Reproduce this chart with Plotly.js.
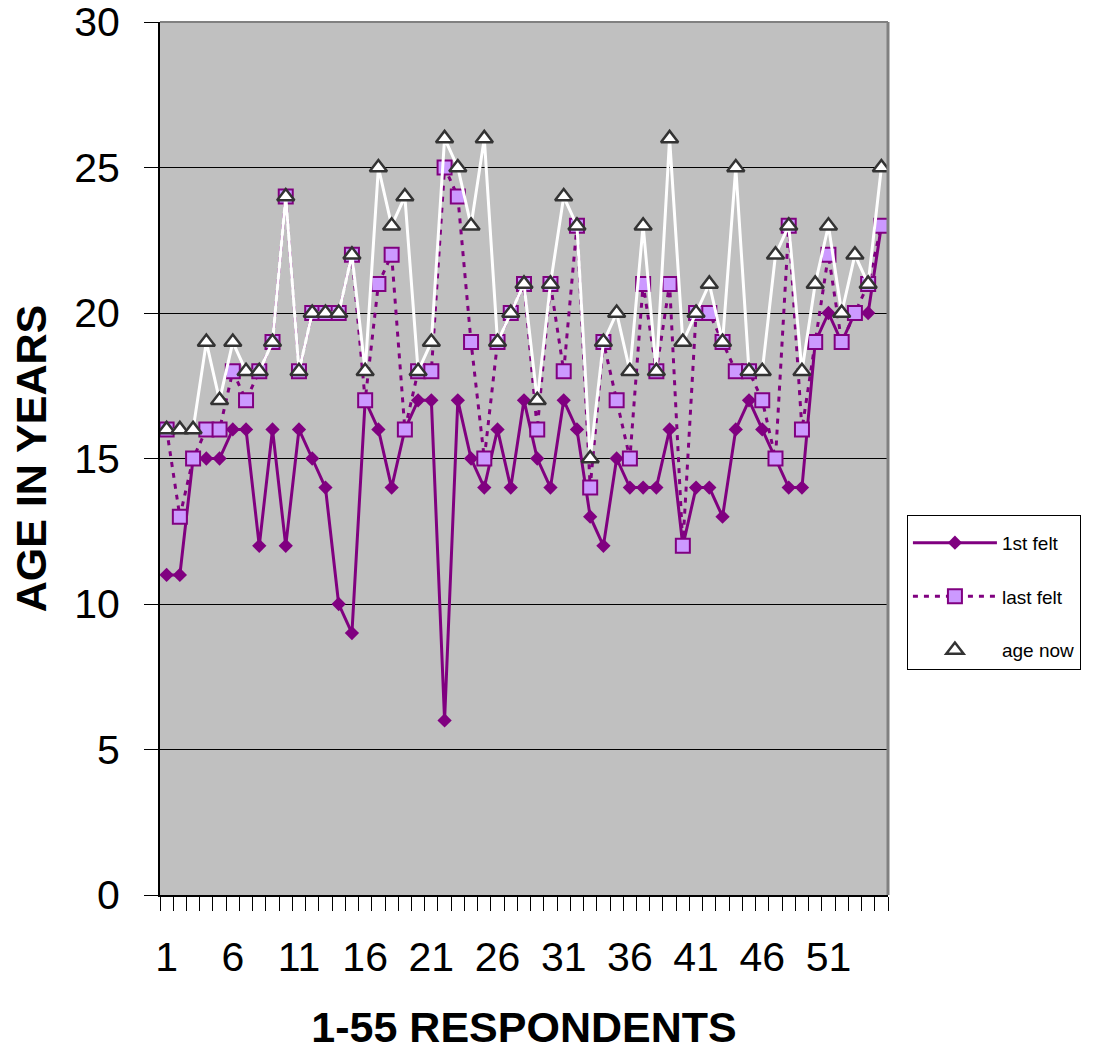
<!DOCTYPE html>
<html>
<head>
<meta charset="utf-8">
<script src="https://cdn.plot.ly/plotly-3.0.1.min.js"></script>
<style>html,body{margin:0;padding:0;background:#fff;}#chart{width:1095px;height:1057px;}</style>
</head>
<body>
<div id="chart"></div>
<script>
var respondents = [];
for (var i = 1; i <= 55; i++) respondents.push(i);

var firstFelt = [11,11,15,15,15,16,16,12,16,12,16,15,14,10,9,17,16,14,16,17,
                 17,6,17,15,14,16,14,17,15,14,17,16,13,12,15,14,14,14,16,12,
                 14,14,13,16,17,16,15,14,14,19,20,19,20,20,23];
var lastFelt  = [16,13,15,16,16,18,17,18,19,24,18,20,20,20,22,17,21,22,16,18,
                 18,25,24,19,15,19,20,21,16,21,18,23,14,19,17,15,21,18,21,12,
                 20,20,19,18,18,17,15,23,16,19,22,19,20,21,23];
var ageNow    = [16,16,16,19,17,19,18,18,19,24,18,20,20,20,22,18,25,23,24,18,
                 19,26,25,23,26,19,20,21,17,21,24,23,15,19,20,18,23,18,26,19,
                 20,21,19,25,18,18,22,23,18,21,23,20,22,21,25];
var labelVals = [1,6,11,16,21,26,31,36,41,46,51];
var labelText = ["1","6","11","16","21","26","31","36","41","46","51"];
var yTickVals = [0,5,10,15,20,25,30];

var FONT = "Liberation Sans, Arial, sans-serif";

var traces = [
  {x: respondents, y: firstFelt, name: "1st felt", type: "scatter", mode: "lines+markers",
   legendgroup: "a",
   line: {color: "#800080", width: 3},
   marker: {symbol: "diamond", size: 11, color: "#800080", line: {width: 0}}},
  {x: respondents, y: lastFelt, name: "last felt", type: "scatter", mode: "lines+markers",
   legendgroup: "b",
   line: {color: "#800080", width: 3, dash: "5px,6px"},
   marker: {symbol: "square", size: 14, color: "#CC99FF", line: {color: "#800080", width: 2}}},
  {x: respondents, y: ageNow, name: "age now", type: "scatter", mode: "lines+markers",
   legendgroup: "c", xaxis: "x2",
   line: {color: "#FFFFFF", width: 3},
   marker: {symbol: "triangle-up", size: 15, color: "#FFFFFF", line: {color: "#333333", width: 2.5}}}
];

var layout = {
  width: 1095, height: 1057,
  margin: {l: 160, r: 207, t: 22, b: 162},
  paper_bgcolor: "#FFFFFF",
  plot_bgcolor: "#C0C0C0",
  font: {family: FONT, color: "#000000"},
  showlegend: true,
  legend: {
    x: 1.026, xanchor: "left", y: 0.4353, yanchor: "top",
    bgcolor: "#FFFFFF", bordercolor: "#000000", borderwidth: 1,
    font: {family: FONT, size: 19, color: "#000000"},
    title: {text: "&nbsp;", font: {family: FONT, size: 6}},
    traceorder: "grouped", tracegroupgap: 26,
    itemwidth: 84
  },
  xaxis: {
    range: [0.5, 55.5], autorange: false,
    tickmode: "linear", tick0: 0.5, dtick: 1,
    ticks: "outside", ticklen: 14, tickwidth: 1, tickcolor: "#000000",
    showticklabels: false, showgrid: false, zeroline: false,
    showline: true, linecolor: "#000000", linewidth: 2,
    title: {text: ""}
  },
  xaxis2: {
    overlaying: "x", side: "bottom", anchor: "y",
    range: [0.5, 55.5], autorange: false,
    tickmode: "array", tickvals: labelVals, ticktext: labelText,
    ticks: "", showgrid: false, zeroline: false, showline: false,
    ticklabelstandoff: 34, ticklabeloverflow: "allow",
    tickfont: {family: FONT, size: 41, color: "#000000"},
    title: {text: "<b>1-55 RESPONDENTS</b>", font: {family: FONT, size: 43, color: "#000000"}, standoff: 32},
    automargin: false
  },
  yaxis: {
    range: [0, 30.0001], autorange: false,
    tickmode: "array", tickvals: yTickVals,
    ticks: "outside", ticklen: 14, tickwidth: 1, tickcolor: "#000000",
    tickfont: {family: FONT, size: 41, color: "#000000"},
    ticklabelstandoff: 16, ticklabeloverflow: "allow",
    showgrid: true, gridcolor: "#000000", gridwidth: 1,
    zeroline: false,
    showline: true, linecolor: "#000000", linewidth: 2,
    title: {text: "<b>AGE IN YEARS</b>", font: {family: FONT, size: 43, color: "#000000"}, standoff: 14},
    automargin: false
  },
  shapes: [
    {type: "line", xref: "paper", yref: "paper", x0: 0, x1: 1, y0: 1, y1: 1,
     line: {color: "#808080", width: 2}},
    {type: "line", xref: "paper", yref: "paper", x0: 1, x1: 1, y0: 0, y1: 1,
     line: {color: "#808080", width: 3}}
  ]
};

Plotly.newPlot("chart", traces, layout, {displayModeBar: false, staticPlot: true});
</script>
</body>
</html>
